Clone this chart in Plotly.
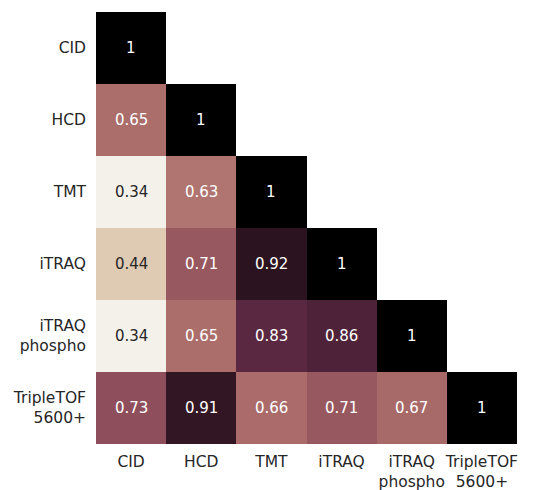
import plotly.graph_objects as go

labels = ["CID", "HCD", "TMT", "iTRAQ", "iTRAQ<br>phospho", "TripleTOF<br>5600+"]
corr = [
    [1.00, None, None, None, None, None],
    [0.65, 1.00, None, None, None, None],
    [0.34, 0.63, 1.00, None, None, None],
    [0.44, 0.71, 0.92, 1.00, None, None],
    [0.34, 0.65, 0.83, 0.86, 1.00, None],
    [0.73, 0.91, 0.66, 0.71, 0.67, 1.00],
]

vmin, vmax = 0.34, 1.0
stops = [
    (0.34, "#f4f1ea"), (0.44, "#dfcab3"), (0.63, "#b07570"), (0.65, "#ab6e6b"),
    (0.66, "#aa6b6a"), (0.67, "#a86a69"), (0.71, "#98585f"), (0.73, "#8e4e5c"),
    (0.83, "#5a2840"), (0.86, "#4e2239"), (0.91, "#331624"), (0.92, "#2b1420"),
    (1.00, "#000000"),
]
colorscale = [[(v - vmin) / (vmax - vmin), c] for v, c in stops]

fig = go.Figure(go.Heatmap(
    z=corr, x=labels, y=labels, colorscale=colorscale, zmin=vmin, zmax=vmax,
    showscale=False, hoverongaps=False, xgap=0, ygap=0,
))

for i, row in enumerate(corr):
    for j, v in enumerate(row):
        if v is None:
            continue
        fig.add_annotation(
            x=labels[j], y=labels[i], text=f"{v:.2g}", showarrow=False,
            font=dict(family="DejaVu Sans", size=15,
                      color="#262626" if v < 0.5 else "#ffffff"),
        )

# page body has an 8px default margin, so the figure is offset by 8px
fig.update_layout(
    width=529, height=482,
    margin=dict(l=88, r=20, t=4, b=46),
    plot_bgcolor="white", paper_bgcolor="white",
    font=dict(family="DejaVu Sans", size=15, color="#262626"),
    xaxis=dict(showgrid=False, zeroline=False, showline=False, ticks="",
               automargin=False, ticklabelstandoff=6, tickangle=0,
               tickfont=dict(size=15.5, color="#262626")),
    yaxis=dict(showgrid=False, zeroline=False, showline=False, ticks="",
               automargin=False, autorange="reversed", ticklabelstandoff=9,
               tickfont=dict(size=15.5, color="#262626")),
)

fig.write_html("out.html")
